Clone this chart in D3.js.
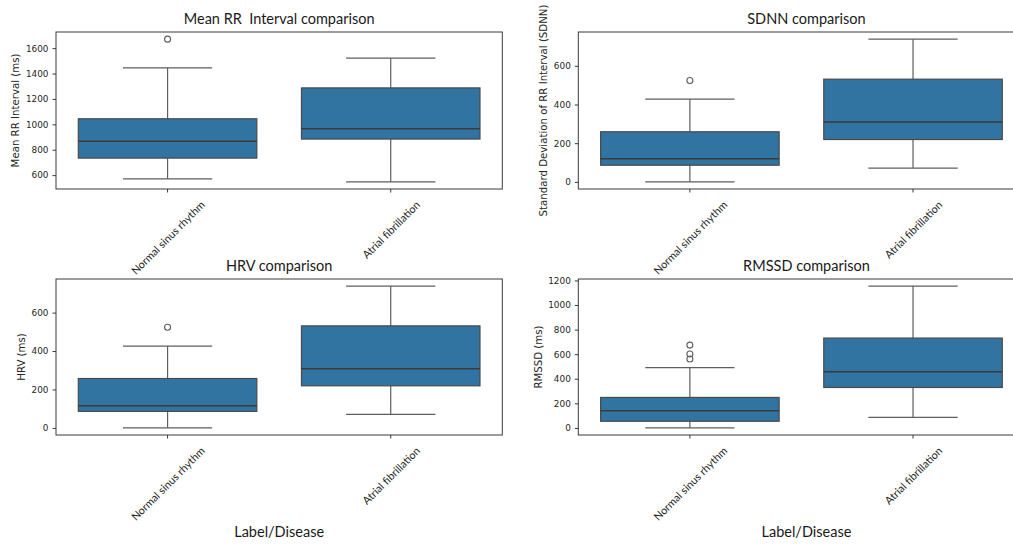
<!DOCTYPE html>
<html>
<head>
<meta charset="utf-8">
<script src="https://cdn.jsdelivr.net/npm/d3@7"></script>
<style>
  html, body { margin: 0; padding: 0; background: #fff; }
  svg { display: block; }
  text.title { white-space: pre; }
</style>
</head>
<body>
<svg id="chart" width="1013" height="544"></svg>
<script>
// Groups shown on every x axis
const categories = ["Normal sinus rhythm", "Atrial fibrillation"];

// Box summaries per group: [lower whisker, Q1, median, Q3, upper whisker]
const meanRRStats = [[570, 734, 866, 1044, 1444], [547, 884, 965, 1287, 1521]];
const meanRROutliers = [[1671], []];
const meanRRTicks = [600, 800, 1000, 1200, 1400, 1600];

const sdnnStats = [[0, 86, 119, 259, 428], [71, 219, 309, 531, 738]];
const sdnnOutliers = [[524], []];
const sdnnTicks = [0, 200, 400, 600];

const hrvStats = [[0, 86, 115, 257, 426], [70, 219, 308, 531, 738]];
const hrvOutliers = [[524], []];
const hrvTicks = [0, 200, 400, 600];

const rmssdStats = [[0, 54, 140, 248, 490], [86, 329, 456, 731, 1154]];
const rmssdOutliers = [[674, 601, 561], []];
const rmssdTicks = [0, 200, 400, 600, 800, 1000, 1200];

const titles = ["Mean RR  Interval comparison", "SDNN comparison", "HRV comparison", "RMSSD comparison"];
const yLabels = ["Mean RR Interval (ms)", "Standard Deviation of RR Interval (SDNN)", "HRV (ms)", "RMSSD (ms)"];
const xLabel = "Label/Disease";

const panels = [
  { stats: meanRRStats, outliers: meanRROutliers, ticks: meanRRTicks, title: titles[0], ylabel: yLabels[0],
    x0: 56, x1: 502.3, y0: 32, y1: 189, titleShift: 0, showX: false },
  { stats: sdnnStats, outliers: sdnnOutliers, ticks: sdnnTicks, title: titles[1], ylabel: yLabels[1],
    x0: 578.3, x1: 1024.6, y0: 32, y1: 189, titleShift: 5, showX: false },
  { stats: hrvStats, outliers: hrvOutliers, ticks: hrvTicks, title: titles[2], ylabel: yLabels[2],
    x0: 56, x1: 502.3, y0: 279, y1: 435, titleShift: 0, showX: true },
  { stats: rmssdStats, outliers: rmssdOutliers, ticks: rmssdTicks, title: titles[3], ylabel: yLabels[3],
    x0: 578.3, x1: 1024.6, y0: 279, y1: 435, titleShift: 5, showX: true }
];

const BOX_FILL = "#3274a1";
const LINE = "#4a4a4a";
const WHISK = "#5e5e5e";
const SPINE = "#3a3a3a";
const TEXT = "#262626";
const SANS = "'Lato', 'Open Sans', sans-serif";
const TICKFONT = "'DejaVu Sans', sans-serif";

const svg = d3.select("#chart");

panels.forEach(p => {
  const g = svg.append("g");

  // y range padded by 5% of the data span, like the plotting defaults
  const allVals = p.stats.flat().concat(p.outliers.flat());
  const lo = d3.min(allVals), hi = d3.max(allVals);
  const m = (hi - lo) * 0.05;
  const y = d3.scaleLinear().domain([lo - m, hi + m]).range([p.y1, p.y0]);

  const x = d3.scaleBand().domain(categories).range([p.x0, p.x1])
    .paddingInner(0.2).paddingOuter(0.1);

  // frame
  g.append("rect")
    .attr("x", p.x0).attr("y", p.y0)
    .attr("width", p.x1 - p.x0).attr("height", p.y1 - p.y0)
    .attr("fill", "none").attr("stroke", SPINE).attr("stroke-width", 1);

  // y axis
  const yAxis = g.append("g")
    .attr("transform", `translate(${p.x0},0)`)
    .call(d3.axisLeft(y).tickValues(p.ticks).tickSize(3.5).tickPadding(4).tickFormat(d3.format("d")));
  yAxis.select(".domain").remove();
  yAxis.selectAll("line").attr("stroke", SPINE);
  yAxis.selectAll("text").attr("fill", TEXT).style("font-family", TICKFONT).style("font-size", "8.9px");

  // x ticks
  const xAxis = g.append("g")
    .attr("transform", `translate(0,${p.y1})`)
    .call(d3.axisBottom(x).tickSize(3.5).tickFormat(""));
  xAxis.select(".domain").remove();
  xAxis.selectAll("line").attr("stroke", SPINE);

  // rotated category labels, each centred under its tick
  categories.forEach(c => {
    const t = g.append("text")
      .text(c)
      .attr("text-anchor", "middle")
      .attr("dominant-baseline", "central")
      .attr("fill", TEXT)
      .style("font-family", SANS)
      .style("font-size", "10.8px");
    const L = t.node().getComputedTextLength();
    const h = 11;
    const half = (L + h) * Math.SQRT1_2 / 2;
    t.attr("transform", `translate(${x(c) + x.bandwidth() / 2},${p.y1 + 9.5 + half}) rotate(-45)`);
  });

  // y label placed left of the tick labels
  const bb = yAxis.node().getBBox();
  g.append("text")
    .text(p.ylabel)
    .attr("text-anchor", "middle")
    .attr("dominant-baseline", "central")
    .attr("fill", TEXT)
    .style("font-family", TICKFONT)
    .style("font-size", "10.2px")
    .attr("transform", `translate(${p.x0 + bb.x - 10},${(p.y0 + p.y1) / 2}) rotate(-90)`);

  // title
  g.append("text")
    .attr("class", "title")
    .text(p.title)
    .attr("x", (p.x0 + p.x1) / 2 + p.titleShift)
    .attr("y", p.y0 - 8)
    .attr("text-anchor", "middle")
    .attr("fill", "#1a1a1a")
    .style("font-family", SANS)
    .style("font-size", "14.5px");

  if (p.showX) {
    g.append("text")
      .text(xLabel)
      .attr("x", (p.x0 + p.x1) / 2 + p.titleShift)
      .attr("y", 537)
      .attr("text-anchor", "middle")
      .attr("fill", "#1a1a1a")
      .style("font-family", SANS)
      .style("font-size", "14.5px");
  }

  // boxes
  categories.forEach((c, i) => {
    const [wl, q1, med, q3, wh] = p.stats[i];
    const cx = x(c) + x.bandwidth() / 2;
    const bw = x.bandwidth();
    const cap = bw * 0.25;
    const bg = g.append("g");

    // whiskers
    bg.append("line").attr("x1", cx).attr("x2", cx).attr("y1", y(q3)).attr("y2", y(wh))
      .attr("stroke", WHISK).attr("stroke-width", 1.2);
    bg.append("line").attr("x1", cx).attr("x2", cx).attr("y1", y(q1)).attr("y2", y(wl))
      .attr("stroke", WHISK).attr("stroke-width", 1.2);
    // caps
    [wl, wh].forEach(v => {
      bg.append("line").attr("x1", cx - cap).attr("x2", cx + cap).attr("y1", y(v)).attr("y2", y(v))
        .attr("stroke", WHISK).attr("stroke-width", 1.2);
    });
    // box
    bg.append("rect")
      .attr("x", x(c)).attr("y", y(q3))
      .attr("width", bw).attr("height", y(q1) - y(q3))
      .attr("fill", BOX_FILL).attr("stroke", LINE).attr("stroke-width", 1.2);
    // median
    bg.append("line").attr("x1", x(c)).attr("x2", x(c) + bw).attr("y1", y(med)).attr("y2", y(med))
      .attr("stroke", "#3a3a3a").attr("stroke-width", 1.5);
    // outliers
    bg.selectAll("circle.fl").data(p.outliers[i]).join("circle")
      .attr("class", "fl")
      .attr("cx", cx).attr("cy", d => y(d)).attr("r", 3)
      .attr("fill", "none").attr("stroke", WHISK).attr("stroke-width", 1.1);
  });
});
</script>
</body>
</html>
